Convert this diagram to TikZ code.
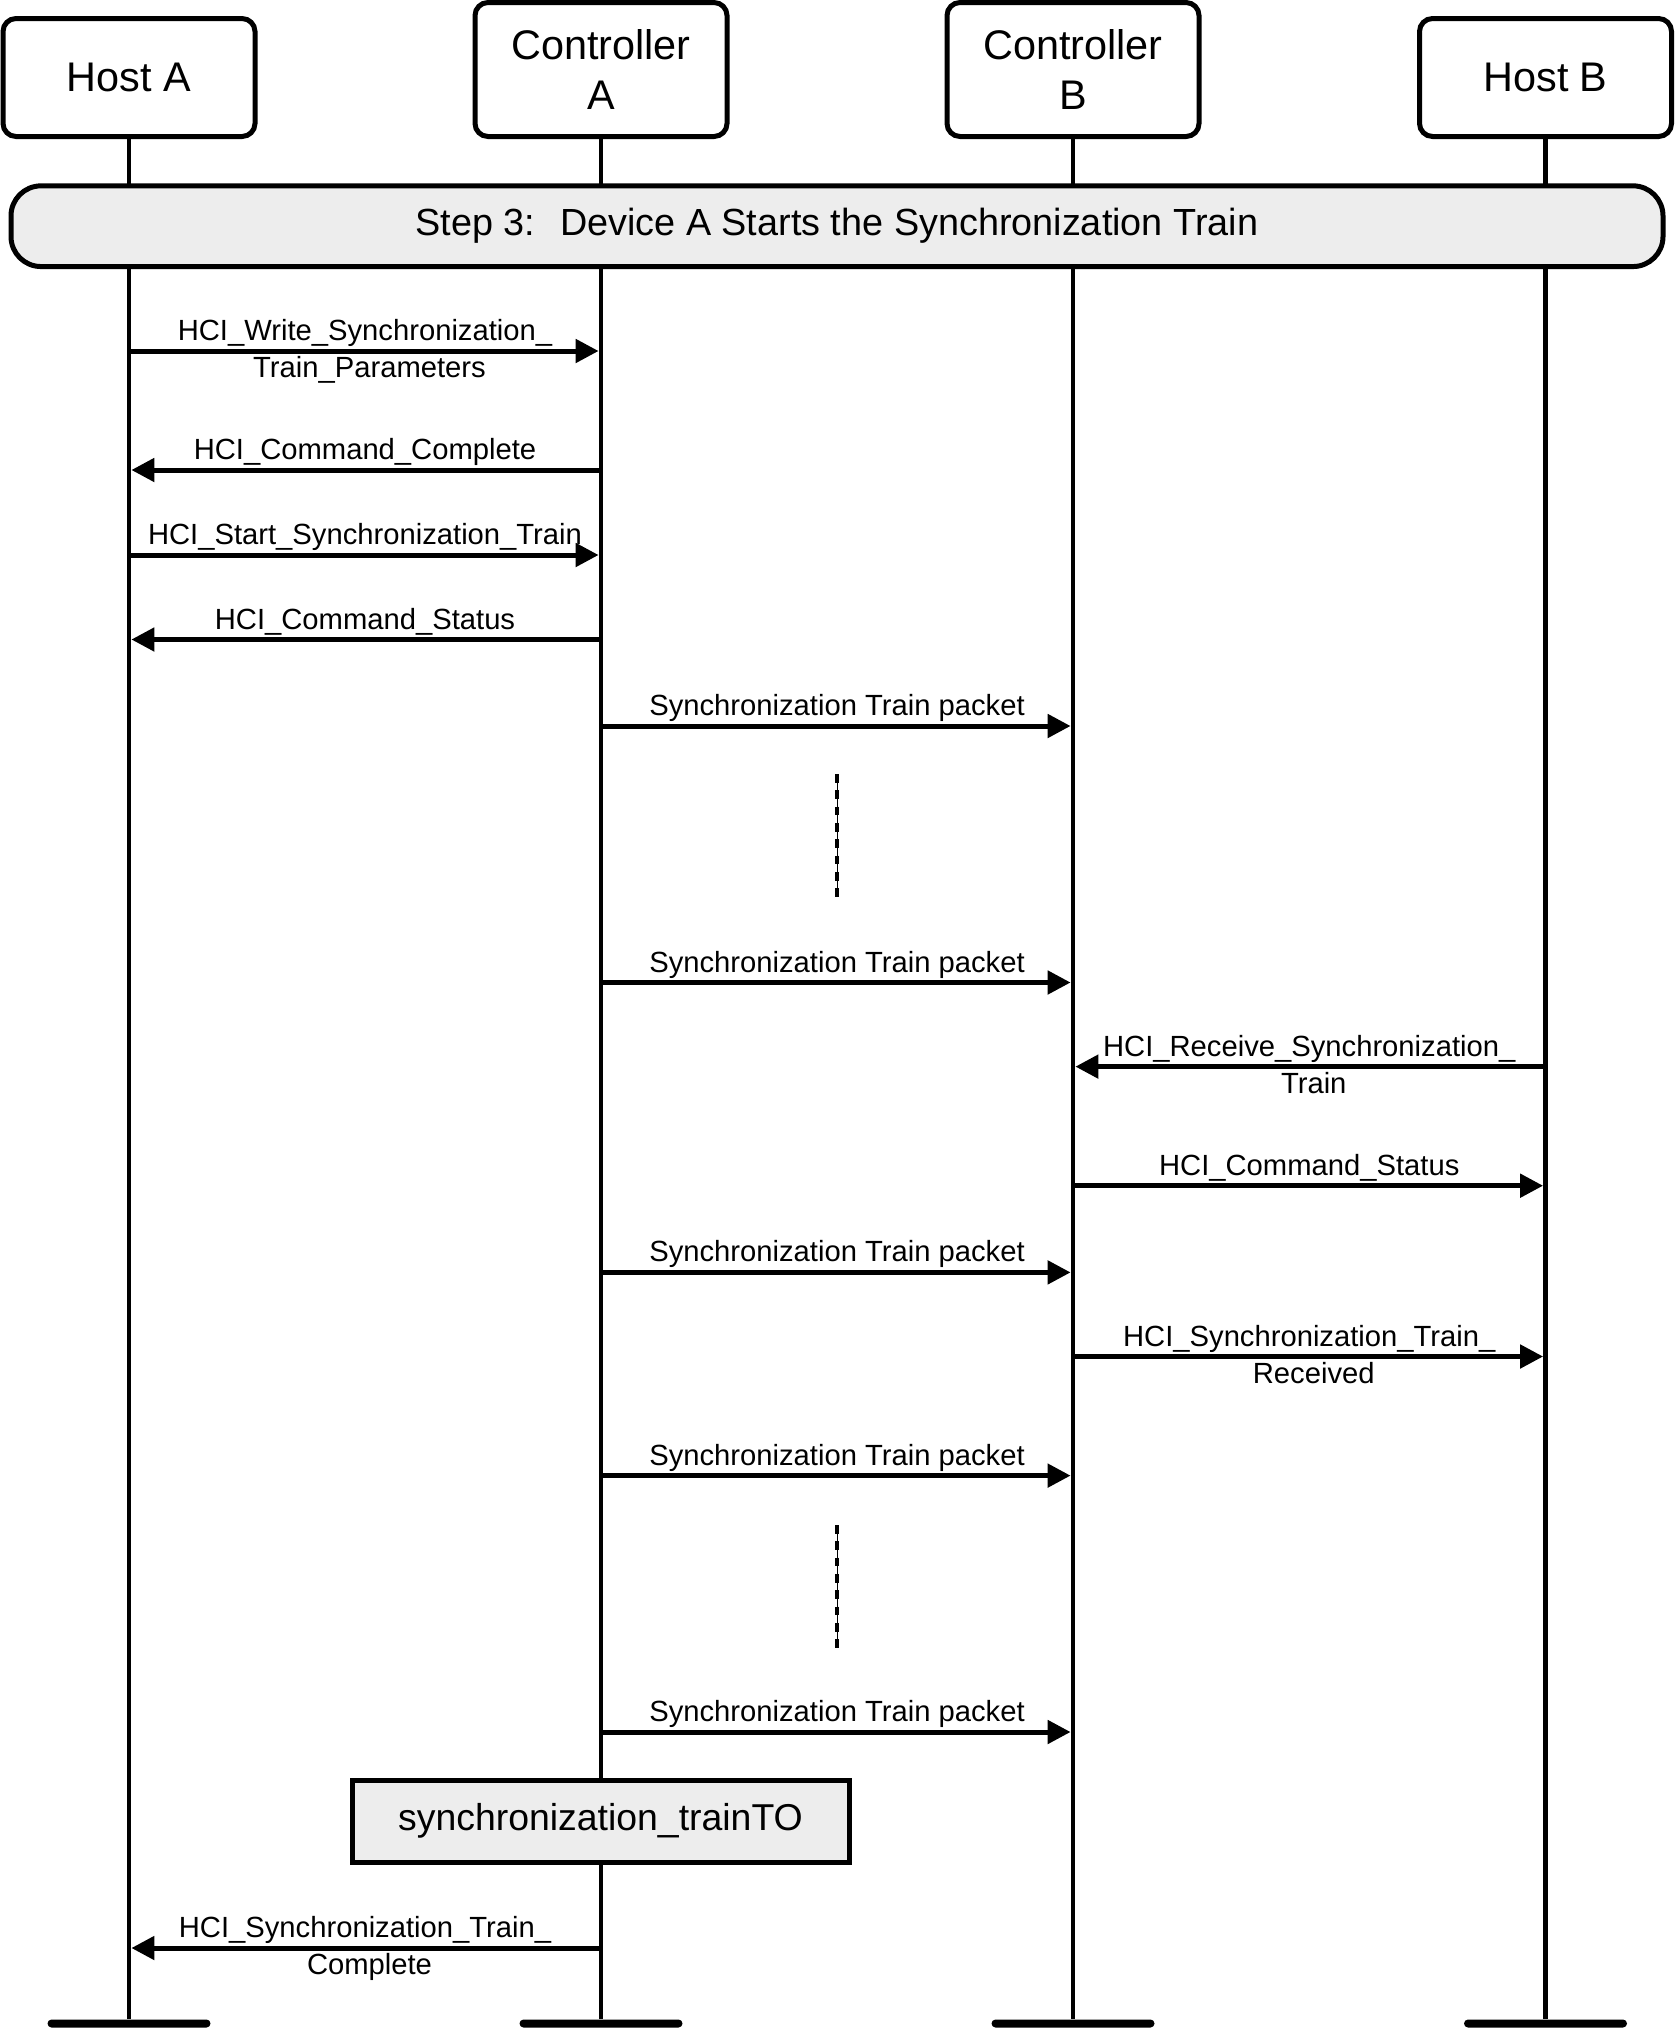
\documentclass[tikz,border=0pt]{standalone}
\usepackage{fontspec}
\setmainfont{Liberation Sans}
\usetikzlibrary{arrows.meta}
\definecolor{bandgray}{HTML}{EDEDED}
\begin{document}
\begin{tikzpicture}[x=0.5pt,y=-0.5pt,
		entity/.style={draw,fill=white,line width=2.5pt,rounded corners=6.5pt,align=center,
			font=\fontsize{20.7}{25.3}\selectfont,minimum width=126pt},
		host/.style={entity,minimum height=59pt},
		ctrl/.style={entity,minimum height=67pt},
		endbar/.style={fill,rounded corners=2pt,inner sep=0pt,minimum width=81.5pt,minimum height=4pt},
		life/.style={line width=2.2pt},
		band/.style={draw,fill=bandgray,line width=2.5pt,rounded corners=15pt,
			minimum width=826pt,minimum height=40.35pt,font=\fontsize{18.9}{22}\selectfont},
		timer/.style={draw,fill=bandgray,line width=2.5pt,minimum width=248.5pt,minimum height=41pt,
			font=\fontsize{18.7}{22}\selectfont},
		msg/.style={line width=2.5pt,-{Triangle[length=11.5pt,width=11.5pt]},shorten >=1.2pt},
		lbl/.style={midway,anchor=base,inner sep=0pt,font=\fontsize{14.6}{17}\selectfont},
		msgtop/.style={lbl,yshift=5.25pt},
		msgbot/.style={lbl,yshift=-13.3pt,xshift=2.25pt},
		pause/.style={line width=0.5pt,postaction={draw,line width=2.25pt,dash pattern=on 4.35pt off 3.8pt}}]
	\useasboundingbox (0,0) rectangle (1675,2029);
	\node[host] (ha) at (129,77.5) {Host A};
	\node[ctrl] (ca) at (601,69.5) {Controller\\A};
	\node[ctrl] (cb) at (1073,69.5) {Controller\\B};
	\node[host] (hb) at (1545.5,77.5) {Host B};
	\foreach \l/\x in {ha/129,ca/601,cb/1073,hb/1545.5}{
		\node[endbar] (\l-end) at (\x,2023.5) {};
		\draw[life] (\l) -- (\l-end);
		\foreach \n/\y in {1/351,2/470,3/555,4/639.5,5/726,6/982.5,7/1066.6,8/1185.7,
				9/1272.4,10/1356.5,11/1475.6,12/1732,13/1948}
			\coordinate (\l\n) at (\x,\y);
	}
	\node[band] (step) at (837,226.2) {Step 3:~ Device A Starts the Synchronization Train};
	\node[timer] (trainto) at (600.5,1821) {synchronization\_trainTO};
	\coordinate (p1a) at (837,774);
	\coordinate (p1b) at (837,897);
	\coordinate (p2a) at (837,1525);
	\coordinate (p2b) at (837,1648);
	\draw[pause] (p1a) -- (p1b);
	\draw[pause] (p2a) -- (p2b);
	\draw[msg] (ha1) -- node[msgtop] {HCI\_Write\_Synchronization\_}
		node[msgbot] {Train\_Parameters} (ca1);
	\draw[msg] (ca2) -- node[msgtop] {HCI\_Command\_Complete} (ha2);
	\draw[msg] (ha3) -- node[msgtop] {HCI\_Start\_Synchronization\_Train} (ca3);
	\draw[msg] (ca4) -- node[msgtop] {HCI\_Command\_Status} (ha4);
	\draw[msg] (ca5) -- node[msgtop] {Synchronization Train packet} (cb5);
	\draw[msg] (ca6) -- node[msgtop] {Synchronization Train packet} (cb6);
	\draw[msg] (hb7) -- node[msgtop] {HCI\_Receive\_Synchronization\_}
		node[msgbot] {Train} (cb7);
	\draw[msg] (cb8) -- node[msgtop] {HCI\_Command\_Status} (hb8);
	\draw[msg] (ca9) -- node[msgtop] {Synchronization Train packet} (cb9);
	\draw[msg] (cb10) -- node[msgtop] {HCI\_Synchronization\_Train\_}
		node[msgbot] {Received} (hb10);
	\draw[msg] (ca11) -- node[msgtop] {Synchronization Train packet} (cb11);
	\draw[msg] (ca12) -- node[msgtop] {Synchronization Train packet} (cb12);
	\draw[msg] (ca13) -- node[msgtop] {HCI\_Synchronization\_Train\_}
		node[msgbot] {Complete} (ha13);
\end{tikzpicture}
\end{document}
